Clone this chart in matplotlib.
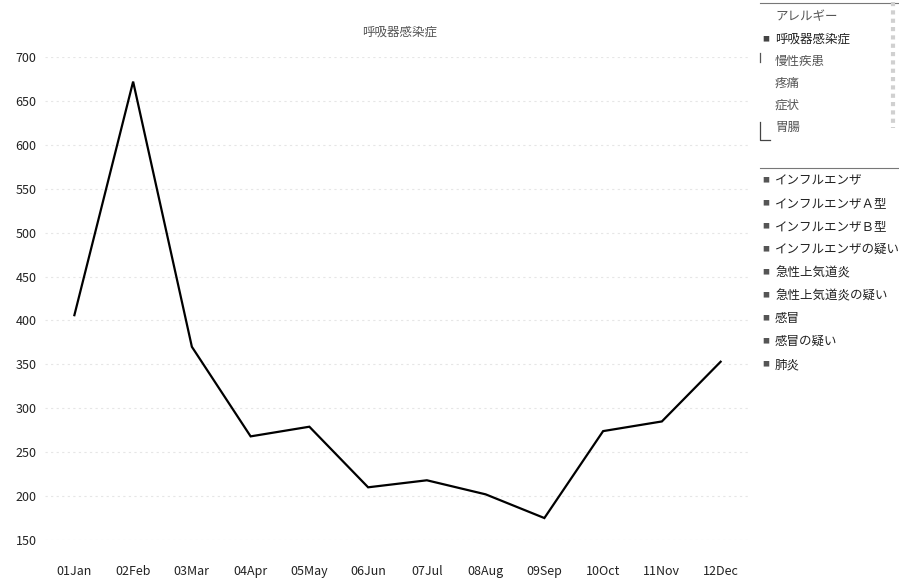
import matplotlib.pyplot as plt
from matplotlib.lines import Line2D

plt.rcParams['font.family'] = ['Noto Sans CJK JP', 'DejaVu Sans']

months = ["01Jan", "02Feb", "03Mar", "04Apr", "05May", "06Jun",
          "07Jul", "08Aug", "09Sep", "10Oct", "11Nov", "12Dec"]
counts = [406, 672, 370, 268, 279, 210, 218, 202, 175, 274, 285, 353]

title = "呼吸器感染症"
groups = ["アレルギー", "呼吸器感染症", "慢性疾患", "疼痛", "症状", "胃腸"]
selected_group = "呼吸器感染症"
diseases = ["インフルエンザ", "インフルエンザＡ型", "インフルエンザＢ型",
            "インフルエンザの疑い", "急性上気道炎", "急性上気道炎の疑い",
            "感冒", "感冒の疑い", "肺炎"]

W, H = 899, 578
fig = plt.figure(figsize=(W / 100, H / 100), dpi=100)
ax = fig.add_axes([45 / W, 38 / H, 705 / W, 483 / H])

x = range(len(months))
ax.plot(x, counts, color="black", linewidth=1.6, solid_joinstyle="miter")

ax.set_xlim(-0.5, len(months) - 0.5)
ax.set_ylim(150, 700)
ax.set_yticks(range(150, 701, 50))
ax.set_xticks(list(x))
ax.set_xticklabels(months)
ax.tick_params(axis="x", length=0, pad=18, labelsize=9, colors="#222222")
ax.tick_params(axis="y", length=0, pad=6, labelsize=9, colors="#222222")
for s in ax.spines.values():
    s.set_visible(False)
ax.yaxis.grid(True, color="#e6e6e6", linestyle=(0, (2, 3)), linewidth=0.8)
ax.set_axisbelow(True)

fig.text(400 / W, 1 - 32 / H, title, ha="center", va="center",
         fontsize=9, color="#555555")

# slicer: disease group
fig.add_artist(Line2D([760 / W, 1], [1 - 3 / H, 1 - 3 / H],
                      color="#777777", linewidth=0.8))
fig.add_artist(Line2D([893 / W, 893 / W], [1 - 2 / H, 1 - 128 / H],
                      color="#d0d0d0", linewidth=3, linestyle=(0, (1, 1))))
fig.add_artist(Line2D([760 / W, 760 / W, 770 / W],
                      [1 - 122 / H, 1 - 140 / H, 1 - 140 / H],
                      color="#444444", linewidth=0.9))
fig.add_artist(Line2D([760 / W, 760 / W], [1 - 53 / H, 1 - 62 / H],
                      color="#555555", linewidth=0.9))
for i, g in enumerate(groups):
    yy = 1 - (17 + 22 * i) / H
    if g == selected_group:
        fig.text(766 / W, yy, "■", ha="center", va="center",
                 fontsize=5, color="#444444")
        col = "#222222"
    else:
        col = "#555555"
    fig.text(775 / W, yy, g, ha="left", va="center", fontsize=9, color=col)

# slicer: disease names
fig.add_artist(Line2D([760 / W, 1], [1 - 168 / H, 1 - 168 / H],
                      color="#777777", linewidth=0.8))
for i, d in enumerate(diseases):
    yy = 1 - (180.5 + 23 * i) / H
    fig.text(766 / W, yy, "■", ha="center", va="center",
             fontsize=5, color="#555555")
    fig.text(775 / W, yy, d, ha="left", va="center", fontsize=9,
             color="#222222")

fig.savefig("out.png", dpi=100, facecolor="white")
